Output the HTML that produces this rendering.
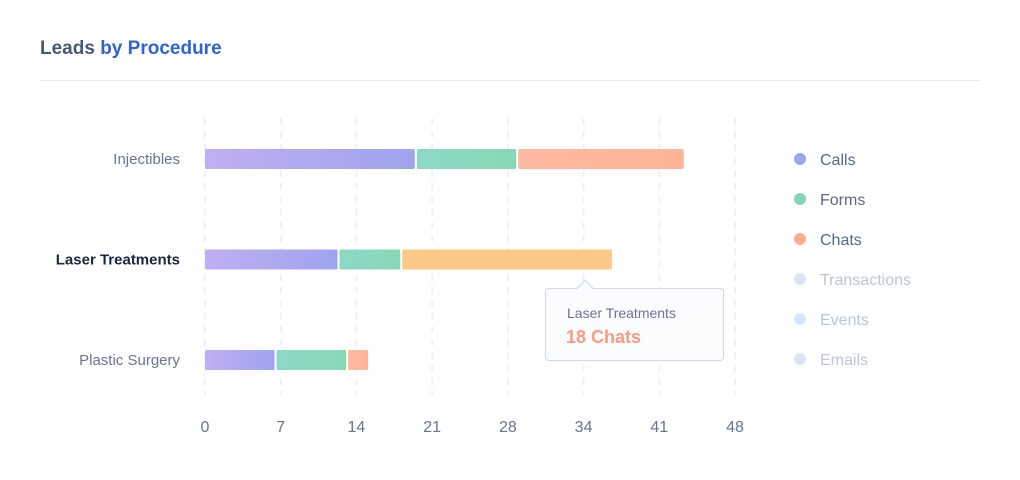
<!DOCTYPE html>
<html><head><meta charset="utf-8">
<style>
body{margin:0;background:#fff;font-family:"Liberation Sans",sans-serif;}
#wrap{position:relative;width:1020px;height:480px;overflow:hidden;}
svg text{font-family:"Liberation Sans",sans-serif;}
</style></head>
<body>
<div id="wrap">
<svg id="chart" width="1020" height="480">
<defs>
<linearGradient id="gCalls" x1="0" x2="1" y1="0" y2="0"><stop offset="0" stop-color="#c0aef2"/><stop offset="1" stop-color="#9fa4ef"/></linearGradient>
<linearGradient id="gForms" x1="0" x2="1"><stop offset="0" stop-color="#8cd8c6"/><stop offset="1" stop-color="#88d8b6"/></linearGradient>
<linearGradient id="gChats" x1="0" x2="1"><stop offset="0" stop-color="#ffb9a0"/><stop offset="1" stop-color="#ffb496"/></linearGradient>
</defs>
<text x="40" y="54" font-size="19" font-weight="bold" fill="#4a5578">Leads <tspan fill="#2f63d8">by Procedure</tspan></text>
<line x1="40" x2="980" y1="80.5" y2="80.5" stroke="#e4ecf6" stroke-width="1"/>
<g id="grid"></g><g id="bars"></g><g id="labels"></g><g id="legend"></g>
</svg>
<div style="position:absolute;left:545px;top:288px;width:177px;height:71px;border:1px solid #cfd6e8;border-radius:4px;background:#fbfcfe;box-sizing:content-box;">
<div style="position:absolute;left:33px;top:-7px;width:11px;height:11px;background:#fbfcfe;border-left:1px solid #cfd6e8;border-top:1px solid #cfd6e8;transform:rotate(45deg);"></div>
<div style="position:absolute;left:21px;top:16px;font-size:14px;color:#6a7491;">Laser Treatments</div>
<div style="position:absolute;left:20px;top:38px;font-size:18px;font-weight:bold;color:#fb9a7e;">18 Chats</div>
</div>
</div>
<script>
const categories=["Injectibles","Laser Treatments","Plastic Surgery"];
const callsValues=[19,12,6.3];
const formsValues=[9,5.5,6.3];
const chatsValues=[15,19,1.8];
const tickValues=[0,48/7,96/7,144/7,192/7,240/7,288/7,48];
const tickLabels=["0","7","14","21","28","34","41","48"];
const legendNames=["Calls","Forms","Chats","Transactions","Events","Emails"];
const legendActive=[true,true,true,false,false,false];

const NS="http://www.w3.org/2000/svg";
const X0=205,X1=735,MAX=48;
const xs=v=>X0+(X1-X0)*v/MAX;
const rowY=[159,260,360];
const ys=i=>rowY[0]+(rowY[2]-rowY[0])/(categories.length-1)*i;
function mk(tag,attrs,parent){const e=document.createElementNS(NS,tag);for(const k in attrs)e.setAttribute(k,attrs[k]);document.getElementById(parent).appendChild(e);return e;}

tickValues.forEach((t,i)=>{
  const l=mk("line",{x1:xs(t),x2:xs(t),y1:118,y2:395,stroke:"#eef1f7","stroke-width":2,"stroke-dasharray":"7 6"},"grid");
  
  
  const tx=mk("text",{x:xs(t),y:432,"font-size":16,fill:"#6a7491","text-anchor":"middle"},"labels");
  tx.textContent=tickLabels[i];
  
  
});

const series=[["calls",callsValues],["forms",formsValues],["chats",chatsValues]];
categories.forEach((c,i)=>{
  const cy=ys(i);
  const lb=mk("text",{x:180,y:cy+5,"font-size":15,fill:i===1?"#1d2540":"#6a7491","font-weight":i===1?"bold":"normal","text-anchor":"end"},"labels");
  lb.textContent=c;
  
  
  let cum=0;
  series.forEach(([name,arr],si)=>{
    const v=arr[i];
    const a=xs(cum)+2*si,b=xs(cum+v)+2*si;
    let fill=si===0?"url(#gCalls)":si===1?"url(#gForms)":"url(#gChats)";
    if(si===2&&i===1)fill="#fec987";
    const r=mk("rect",{x:a,y:cy-10,width:Math.max(0,b-a),height:20,rx:1.5,fill:fill},"bars");
    
    
    cum+=v;
  });
});

const legColors=["#9fa4ef","#86d6b6","#ffab8e","#dbe5f8","#dbe5f8","#dbe5f8"];
legendNames.forEach((n,i)=>{
  const y=159+40*i;
  const c=mk("circle",{cx:800,cy:y,r:6,fill:legColors[i]},"legend");
  
  
  const t=mk("text",{x:820,y:y+6,"font-size":16,fill:legendActive[i]?"#5c6685":"#bcc5d8"},"legend");
  t.textContent=n;
  
  
});
</script>
</body></html>
